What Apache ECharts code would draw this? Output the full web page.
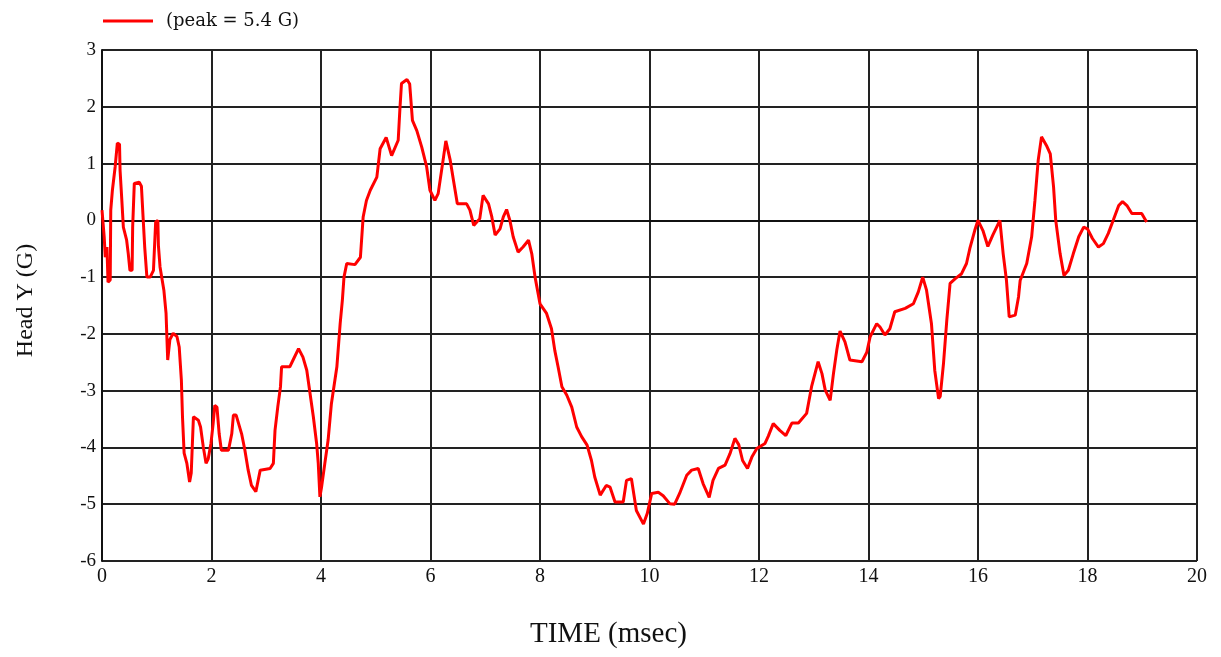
<!DOCTYPE html>
<html>
<head>
<meta charset="utf-8">
<script src="https://cdn.jsdelivr.net/npm/echarts@6/dist/echarts.min.js"></script>
<style>
html,body{margin:0;padding:0;background:#fff;}
#chart{width:1221px;height:657px;}
</style>
</head>
<body>
<div id="chart"></div>
<script>
const seriesName = '(peak = 5.4 G)';
const xTicks = [0,2,4,6,8,10,12,14,16,18,20];
const yTicks = [-6,-5,-4,-3,-2,-1,0,1,2,3];
const times = [
0.00,0.04,0.06,0.09,0.11,0.15,0.16,0.19,0.24,0.28,0.32,0.33,0.36,0.39,0.45,0.48,0.51,0.55,0.56,0.59,
0.68,0.72,0.75,0.78,0.82,0.88,0.94,0.98,1.02,1.03,1.06,1.13,1.17,1.20,1.24,1.30,1.37,1.41,1.45,1.47,
1.50,1.55,1.60,1.63,1.67,1.76,1.80,1.85,1.90,1.94,1.99,2.03,2.06,2.10,2.14,2.18,2.31,2.37,2.40,2.45,
2.55,2.61,2.67,2.73,2.81,2.89,3.07,3.13,3.16,3.21,3.26,3.28,3.43,3.49,3.59,3.67,3.74,3.80,3.86,3.92,
3.95,3.98,4.01,4.07,4.13,4.19,4.29,4.35,4.39,4.42,4.47,4.62,4.72,4.77,4.83,4.90,5.02,5.08,5.19,5.29,
5.41,5.44,5.47,5.57,5.62,5.67,5.75,5.84,5.93,5.99,6.08,6.14,6.23,6.28,6.36,6.42,6.49,6.66,6.72,6.79,
6.90,6.96,7.06,7.12,7.18,7.27,7.33,7.39,7.45,7.51,7.60,7.69,7.79,7.85,7.91,8.00,8.12,8.21,8.27,8.33,
8.40,8.49,8.58,8.67,8.76,8.86,8.94,9.00,9.10,9.21,9.28,9.37,9.52,9.58,9.67,9.76,9.89,9.96,10.04,10.16,
10.25,10.37,10.46,10.55,10.68,10.77,10.89,10.98,11.09,11.16,11.26,11.38,11.47,11.56,11.63,11.70,11.79,11.87,11.96,12.11,
12.17,12.26,12.38,12.49,12.60,12.72,12.87,12.96,13.08,13.15,13.21,13.30,13.36,13.42,13.48,13.57,13.66,13.88,13.97,14.03,
14.15,14.21,14.30,14.39,14.48,14.67,14.82,14.91,14.99,15.06,15.15,15.21,15.28,15.31,15.37,15.43,15.49,15.58,15.70,15.79,
15.85,15.94,16.00,16.09,16.18,16.27,16.40,16.46,16.52,16.57,16.68,16.74,16.77,16.89,16.98,17.04,17.10,17.16,17.25,17.32,
17.38,17.42,17.50,17.57,17.65,17.74,17.84,17.93,18.00,18.09,18.20,18.29,18.38,18.47,18.57,18.64,18.72,18.81,18.99,19.08
];
const values = [
0.18,-0.29,-0.65,-0.47,-1.09,-1.05,0.18,0.53,0.94,1.36,1.34,0.88,0.39,-0.12,-0.35,-0.59,-0.88,-0.88,-0.12,0.65,
0.67,0.60,0.06,-0.47,-1.00,-1.00,-0.88,-0.03,0.00,-0.44,-0.82,-1.23,-1.64,-2.46,-2.10,-1.99,-2.05,-2.23,-2.82,-3.46,
-4.10,-4.28,-4.61,-4.45,-3.46,-3.52,-3.64,-3.99,-4.28,-4.20,-3.93,-3.58,-3.26,-3.29,-3.76,-4.05,-4.05,-3.76,-3.43,-3.43,
-3.76,-4.05,-4.40,-4.67,-4.78,-4.40,-4.37,-4.28,-3.70,-3.29,-2.93,-2.58,-2.58,-2.46,-2.26,-2.41,-2.64,-3.05,-3.46,-3.93,
-4.28,-4.87,-4.70,-4.28,-3.87,-3.23,-2.58,-1.82,-1.41,-1.00,-0.76,-0.78,-0.65,0.06,0.35,0.53,0.76,1.26,1.46,1.14,
1.41,1.94,2.41,2.48,2.40,1.76,1.58,1.29,0.94,0.53,0.35,0.47,1.06,1.40,1.06,0.70,0.29,0.29,0.18,-0.09,
0.03,0.44,0.29,0.06,-0.26,-0.15,0.06,0.19,0.00,-0.29,-0.56,-0.47,-0.35,-0.59,-1.00,-1.47,-1.64,-1.91,-2.29,-2.58,
-2.93,-3.08,-3.29,-3.64,-3.81,-3.96,-4.23,-4.52,-4.84,-4.67,-4.70,-4.96,-4.96,-4.58,-4.55,-5.11,-5.35,-5.16,-4.81,-4.79,
-4.85,-4.99,-5.00,-4.81,-4.49,-4.40,-4.37,-4.64,-4.88,-4.58,-4.37,-4.31,-4.11,-3.84,-3.95,-4.23,-4.37,-4.17,-4.02,-3.93,
-3.80,-3.58,-3.70,-3.79,-3.57,-3.57,-3.40,-2.93,-2.49,-2.70,-2.99,-3.17,-2.70,-2.29,-1.95,-2.14,-2.46,-2.49,-2.32,-2.05,
-1.82,-1.88,-2.02,-1.91,-1.61,-1.55,-1.47,-1.26,-1.00,-1.23,-1.82,-2.64,-3.14,-3.10,-2.52,-1.76,-1.11,-1.03,-0.94,-0.76,
-0.50,-0.18,0.00,-0.18,-0.46,-0.26,0.00,-0.59,-1.06,-1.70,-1.67,-1.35,-1.06,-0.76,-0.29,0.35,1.06,1.47,1.32,1.17,
0.59,0.00,-0.59,-0.97,-0.88,-0.59,-0.29,-0.12,-0.15,-0.32,-0.47,-0.41,-0.23,0.00,0.26,0.33,0.26,0.12,0.12,-0.03
];
const points = times.map((t, i) => [t, values[i]]);
const serif = '"Liberation Serif", "DejaVu Serif", serif';
const chart = echarts.init(document.getElementById('chart'), null, {renderer: 'canvas'});
chart.setOption({
  animation: false,
  backgroundColor: '#fff',
  legend: {
    left: 98, top: 7,
    itemWidth: 50, itemHeight: 3, itemGap: 10,
    icon: 'rect',
    data: [seriesName],
    textStyle: {fontFamily: '"DejaVu Serif", serif', fontSize: 18, color: '#111', padding: [2,0,0,8]}
  },
  grid: {left: 102, right: 24, top: 50, bottom: 96, containLabel: false},
  xAxis: {
    type: 'value', min: xTicks[0], max: xTicks[xTicks.length-1], interval: 2,
    name: 'TIME (msec)', nameLocation: 'middle', nameGap: 59,
    nameTextStyle: {fontFamily: serif, fontSize: 29, color: '#111', padding: [0, 82, 0, 0]},
    axisLine: {show: true, lineStyle: {color: '#111', width: 2}},
    axisTick: {show: false},
    axisLabel: {fontFamily: serif, fontSize: 20, color: '#111', margin: 6},
    splitLine: {show: true, lineStyle: {color: '#222', width: 2}}
  },
  yAxis: {
    type: 'value', min: yTicks[0], max: yTicks[yTicks.length-1], interval: 1,
    name: 'Head Y (G)', nameLocation: 'middle', nameGap: 64, nameRotate: 90,
    nameTextStyle: {fontFamily: serif, fontSize: 24, color: '#111', padding: [0, 0, 0, 10]},
    axisLine: {show: true, lineStyle: {color: '#111', width: 2}},
    axisTick: {show: false},
    axisLabel: {fontFamily: serif, fontSize: 19, color: '#111', margin: 6},
    splitLine: {show: true, lineStyle: {color: '#222', width: 2}}
  },
  series: [{
    name: seriesName,
    type: 'line',
    data: points,
    showSymbol: false,
    symbol: 'none',
    lineStyle: {color: '#ff0000', width: 3},
    itemStyle: {color: '#ff0000'}
  }]
});
</script>
</body>
</html>
